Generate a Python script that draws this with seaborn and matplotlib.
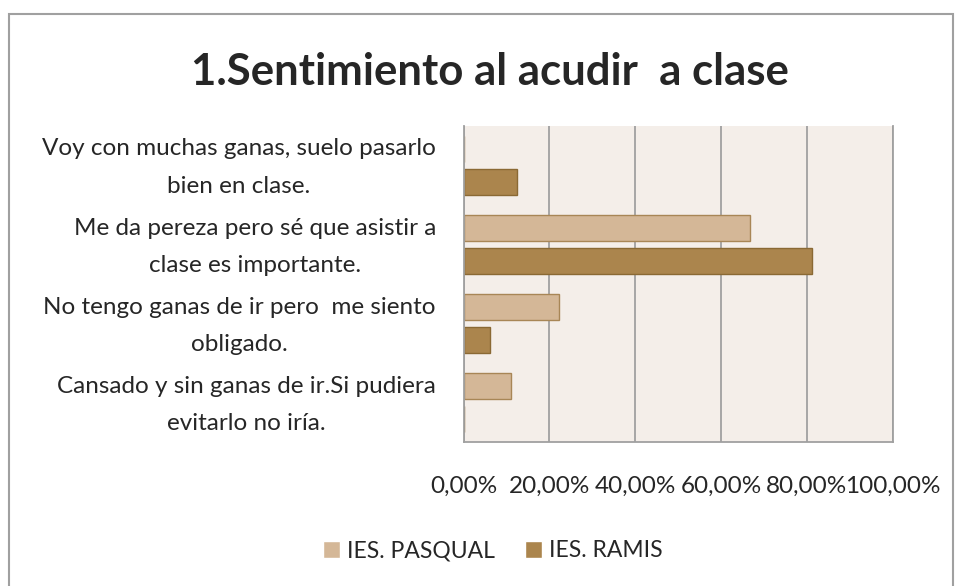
import pandas as pd
import matplotlib.pyplot as plt
import matplotlib.transforms as mtransforms
import seaborn as sns
from matplotlib.patches import Rectangle

# Survey answers and percentages per school
categories = [
    "Voy con muchas ganas, suelo pasarlo\nbien en clase.",
    "Me da pereza pero sé que asistir a\nclase es importante.",
    "No tengo ganas de ir pero  me siento\nobligado.",
    "Cansado y sin ganas de ir.Si pudiera\nevitarlo no iría.",
]
pasqual = [0.0, 66.67, 22.22, 11.11]
ramis = [12.5, 81.25, 6.25, 0.0]
schools = ["IES. PASQUAL", "IES. RAMIS"]
x_ticks = [0, 20, 40, 60, 80, 100]
x_tick_labels = ["0,00%", "20,00%", "40,00%", "60,00%", "80,00%", "100,00%"]

df = pd.DataFrame({
    "Respuesta": categories * 2,
    "Centro": [schools[0]] * 4 + [schools[1]] * 4,
    "Porcentaje": pasqual + ramis,
})

sns.set_style("white")
plt.rcParams['font.family'] = ['Lato', 'DejaVu Sans']

fig = plt.figure(figsize=(9.57, 5.86), dpi=100)
ax = fig.add_axes([0.4845, 0.2457, 0.4483, 0.5393])

fills = ["#D4B797", "#AB854D"]
edges = ["#A88656", "#8A6934"]
sns.barplot(data=df, x="Porcentaje", y="Respuesta", hue="Centro", orient="h",
            palette=fills, saturation=1, width=0.84, gap=0.2, ax=ax,
            legend=True)

for cont, ec in zip(ax.containers, edges):
    for bar in cont:
        bar.set_edgecolor(ec)
        bar.set_linewidth(1.0)

ax.set_facecolor("#F4EEE9")
ax.set_xlim(0, 100)
ax.set_ylim(3.5, -0.5)
ax.set_xticks(x_ticks)
ax.set_xticklabels(x_tick_labels, fontsize=17.5)
ax.tick_params(axis="x", length=0, pad=24)
ax.tick_params(axis="y", length=0, pad=20)
shift_up = mtransforms.ScaledTranslation(0, 8 / 100, fig.dpi_scale_trans)
for lbl in ax.get_yticklabels():
    lbl.set_fontsize(17.5)
    lbl.set_multialignment("center")
    lbl.set_linespacing(1.95)
    lbl.set_transform(lbl.get_transform() + shift_up)
ax.set_xlabel("")
ax.set_ylabel("")
ax.grid(axis="x", color="#A0A0A0", linewidth=1.3)
ax.set_axisbelow(True)
for side in ["left", "bottom", "right"]:
    ax.spines[side].set_color("#A0A0A0")
    ax.spines[side].set_linewidth(1.3)
ax.spines["top"].set_visible(False)

handles, labels = ax.get_legend_handles_labels()
ax.legend_.remove()
fig.legend(handles, labels, loc="center", bbox_to_anchor=(0.515, 0.06),
           ncol=2, frameon=False, fontsize=16.5, handlelength=0.75,
           handleheight=0.75, columnspacing=1.3, handletextpad=0.3)

fig.text(0.512, 0.877, "1.Sentimiento al acudir  a clase", ha="center",
         va="center", fontsize=31.5, fontweight="bold")

# outer chart border
fig.patches.append(Rectangle((9 / 957, -0.05), 944 / 957, 1.05 - 14 / 586,
                             transform=fig.transFigure, fill=False,
                             edgecolor="#A0A0A0", linewidth=1.5))

plt.savefig("out.png", dpi=100)
